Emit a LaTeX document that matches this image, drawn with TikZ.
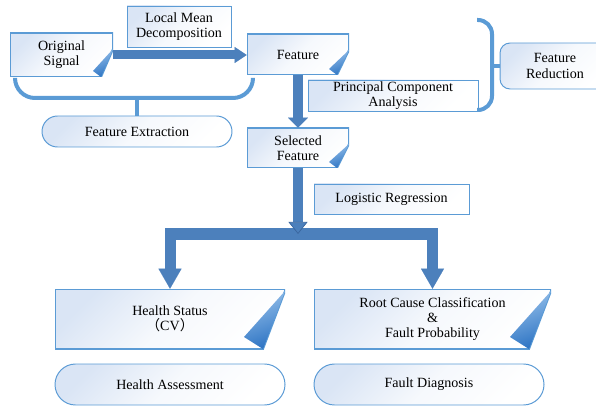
\documentclass[tikz,border=0pt]{standalone}
\usepackage{fontspec}
\setmainfont{Liberation Serif}
\newfontfamily\cjkfont{Noto Sans CJK SC}
\usetikzlibrary{arrows.meta}
\usetikzlibrary{calc}
\usetikzlibrary{shapes.misc}
\definecolor{boxline}{RGB}{91,155,213}
\definecolor{boxtint}{RGB}{218,229,245}
\definecolor{arrowblue}{RGB}{76,128,188}
\definecolor{arrowedge}{RGB}{58,102,158}
\definecolor{bracketblue}{RGB}{91,155,213}
\definecolor{curllight}{RGB}{150,192,234}
\definecolor{curldark}{RGB}{44,115,195}

\begin{document}
\begin{tikzpicture}[x=0.025cm, y=-0.025cm]
	\tikzset{wh/.style 2 args={minimum width=#1*0.025cm, minimum height=#2*0.025cm}}
	\tikzset{txt/.style={font=\fontsize{10}{10.8}\selectfont, align=center, inner sep=0pt}}
	\tikzset{tint/.style={top color=boxtint, bottom color=white, middle color=white!75!boxtint, shading angle=45}}
	\tikzset{plain/.style={txt, draw=boxline, line width=0.7pt, tint}}
	\tikzset{pill/.style={plain, rounded rectangle}}
	\tikzset{fold/.style n args={4}{txt, path picture={
			\coordinate (pnw) at (path picture bounding box.north west);
			\coordinate (pne) at (path picture bounding box.north east);
			\coordinate (psw) at (path picture bounding box.south west);
			\coordinate (pse) at (path picture bounding box.south east);
			\shade[tint]
				(pnw) -- (pne) -- ($(pne)+(0,#1)$) -- ($(pse)+(-#2,0)$) -- (psw) -- cycle;
			\draw[boxline, line width=1.4pt]
				(pnw) -- (pne) -- ($(pne)+(0,#1)$) -- ($(pse)+(-#2,0)$) -- (psw) -- cycle;
			\shade[top color=curllight, bottom color=curldark, shading angle=20]
				($(pne)+(0,#1)$) -- ($(pse)+(-#2,0)$) -- ($(pse)+(-#2-#3,-#4)$) -- cycle;
		}}}
	\tikzset{small fold/.style={fold={16}{12}{8}{6}}}
	\tikzset{big fold/.style={fold={2}{22}{19}{12}}}
	\tikzset{fat/.style={draw=arrowblue, line width=#1, line join=miter}}
	\tikzset{bracket/.style={draw=bracketblue, line width=0.1cm}}
	\path[use as bounding box, clip] (0,0) rectangle (596,406);
	%boxes
	\node[small fold, wh={103}{44}] (osig) at (61.5,55) {Original\\Signal};
	\node[plain, wh={104}{41}] (lmd) at (179,26.5) {Local Mean\\Decomposition};
	\node[small fold, wh={102}{41}] (feat) at (298,54.5) {Feature};
	\node[plain, wh={170}{31}] (pca) at (393,95.5) {Principal Component\\Analysis};
	\node[plain, rounded corners=0.25cm, wh={110}{46}] (fred) at (555,66) {Feature\\Reduction};
	\node[pill, wh={190}{31}] (fext) at (137,131.5) {Feature Extraction};
	\node[small fold, wh={102}{40}] (sel) at (298,148) {Selected\\Feature};
	\node[plain, wh={155}{30}] (logreg) at (391.5,199) {Logistic Regression};
	\node[big fold, wh={230}{60}] (hstat) at (170,319) {Health Status\\{\cjkfont （}CV{\cjkfont ）}};
	\node[big fold, wh={237}{60}] (rcause) at (432.5,319) {Root Cause Classification\\\&\\Fault Probability};
	\node[pill, wh={230}{41}] (hass) at (170,384.5) {Health Assessment};
	\node[pill, wh={230}{41}] (fdiag) at (429,384.5) {Fault Diagnosis};
	%brackets
	\draw[bracket, rounded corners=0.5cm] (15,78) -- (15,98) -- (253,98) -- (253,78);
	\draw[bracket] (fext.north) -- ++(0,-18);
	\draw[bracket, rounded corners=0.35cm] (477,20) -- (492,20) -- (492,110) -- (477,110);
	\draw[bracket] (fred.west) -- ++(-9,0);
	%arrows
	\coordinate (jn) at (298,234);
	\draw[fat=0.225cm, -{Triangle[width=0.4cm, length=0.3cm, line width=0.01pt]}] (osig.east) -- (osig.east -| feat.west);
	\draw[fat=0.27cm, -{Triangle[width=0.5cm, length=0.25cm, line width=0.01pt]}] (feat.south) -- (sel.north);
	\draw[fat=0.275cm, -{Triangle[width=0.575cm, length=0.5cm, line width=0.01pt]}] (jn) -| (hstat.north);
	\draw[fat=0.275cm, -{Triangle[width=0.575cm, length=0.5cm, line width=0.01pt]}] (jn) -| (rcause.north);
	\draw[fat=0.25cm, -{Triangle[width=0.475cm, length=0.3cm, line width=0.5pt, fill=arrowblue, color=arrowedge]}] (sel.south) -- (jn);
\end{tikzpicture}
\end{document}
